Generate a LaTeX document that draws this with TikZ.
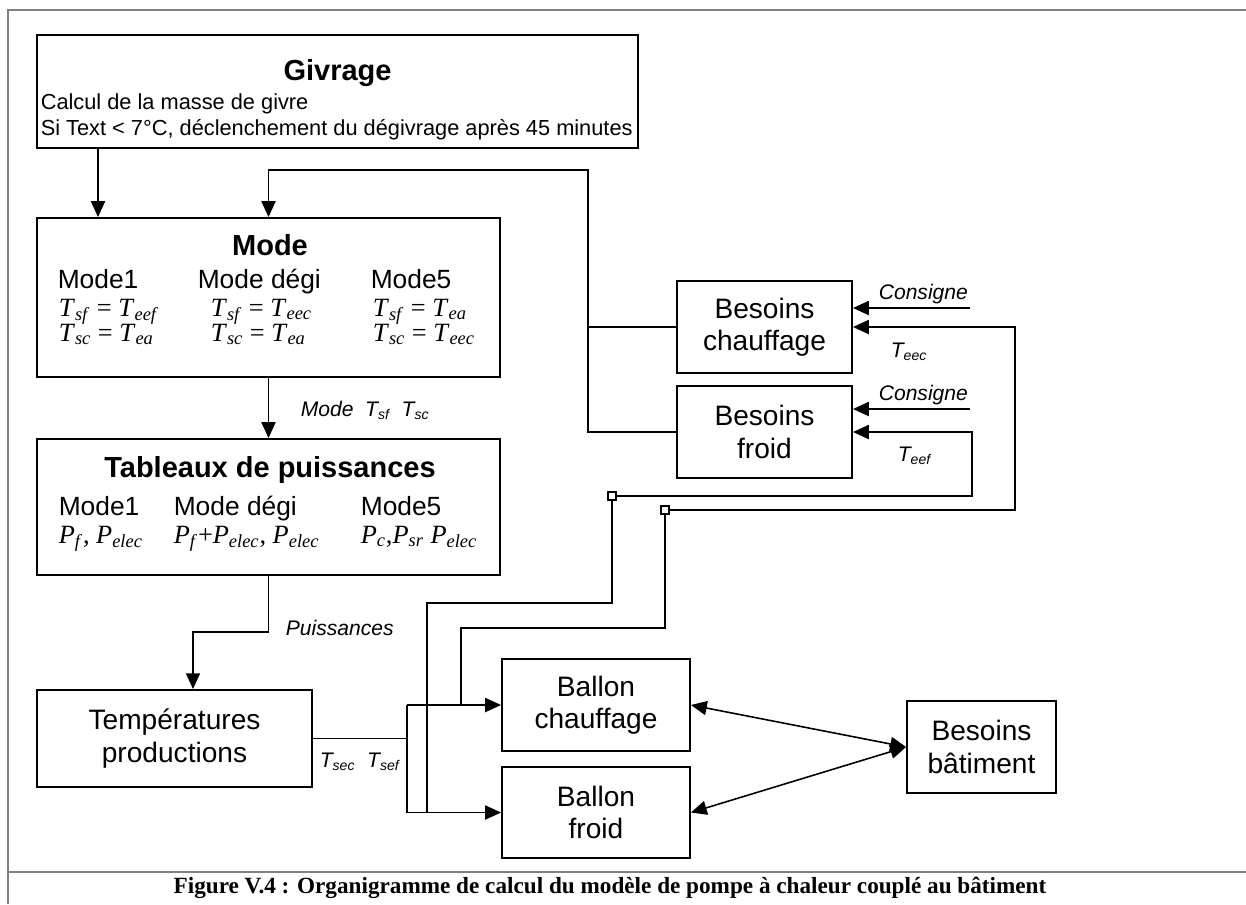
\documentclass[tikz,border=0pt]{standalone}
\usepackage{fontspec}
\setmainfont{Liberation Sans}
\newfontfamily\tnr{Liberation Serif}
\usetikzlibrary{arrows.meta}
\newcommand{\Tv}[2]{\textit{#1}\textsubscript{\textit{#2}}}
\tikzset{
  box/.style={draw, line width=1.1pt, align=center, inner sep=0pt, font=\fontsize{16}{18.5}\selectfont},
  arr/.style={-{Triangle[length=9pt,width=8pt]}},
  darr/.style={{Triangle[length=9pt,width=8pt]}-{Triangle[length=9pt,width=8pt]}},
  txt/.style={anchor=base west, inner sep=0pt},
  lbl/.style={anchor=base west, inner sep=0pt, font=\fontsize{12}{14}\selectfont\itshape},
  eq/.style={anchor=base west, inner sep=0pt, font=\tnr\fontsize{15}{16}\selectfont},
  jsq/.style={draw, fill=white, minimum size=4.5pt, inner sep=0pt, line width=0.8pt},
  frame/.style={draw=gray, line width=1.2pt}
}
\begin{document}
\begin{tikzpicture}[x=0.02cm, y=-0.02cm, line width=0.9pt]
\useasboundingbox (0,0) rectangle (1246,904);
% cadre
\draw[frame] (8,904) -- (8,10) -- (1246,10);
\draw[frame] (8,872) -- (1246,872);
% boites
\node[box, minimum width=12.02cm, minimum height=2.26cm] (giv) at (337.5,91.5) {};
\node[box, minimum width=9.26cm, minimum height=3.18cm] (mode) at (268.5,297.5) {};
\node[box, minimum width=9.26cm, minimum height=2.72cm] (tab) at (268.5,507) {};
\node[box, minimum width=5.5cm, minimum height=1.94cm] (temp) at (174.5,738.5) {Températures\\productions};
\node[box, minimum width=3.5cm, minimum height=1.84cm] (bch) at (764.5,327) {Besoins\\chauffage};
\node[box, minimum width=3.5cm, minimum height=1.84cm] (bfr) at (764.5,432) {Besoins\\froid};
\node[box, minimum width=3.76cm, minimum height=1.84cm] (balc) at (596,705) {Ballon\\chauffage};
\node[box, minimum width=3.76cm, minimum height=1.82cm] (balf) at (596,812.5) {Ballon\\froid};
\node[box, minimum width=2.98cm, minimum height=1.84cm] (bat) at (981.5,747) {Besoins\\bâtiment};
% Givrage
\node[font=\bfseries\fontsize{16.5}{18}\selectfont, anchor=base] (givt) at (337.5,80) {Givrage};
\node[txt, font=\fontsize{12.4}{14}\selectfont] (giv1) at (40,109) {Calcul de la masse de givre};
\node[txt, font=\fontsize{12.4}{14}\selectfont] (giv2) at (40,135) {Si Text < 7°C, déclenchement du dégivrage après 45 minutes};
% Mode
\node[font=\bfseries\fontsize{16.5}{18}\selectfont, anchor=base] (modet) at (270,255) {Mode};
\node[txt, font=\fontsize{15}{17}\selectfont] (m1) at (57,288) {Mode1};
\node[txt, font=\fontsize{15}{17}\selectfont] (m2) at (197,288) {Mode dégi};
\node[txt, font=\fontsize{15}{17}\selectfont] (m3) at (370,288) {Mode5};
\node[eq] (e11) at (58,316) {\Tv{T}{sf} = \Tv{T}{eef}};
\node[eq] (e12) at (58,341) {\Tv{T}{sc} = \Tv{T}{ea}};
\node[eq] (e21) at (210,316) {\Tv{T}{sf} = \Tv{T}{eec}};
\node[eq] (e22) at (210,341) {\Tv{T}{sc} = \Tv{T}{ea}};
\node[eq] (e31) at (372,316) {\Tv{T}{sf} = \Tv{T}{ea}};
\node[eq] (e32) at (372,341) {\Tv{T}{sc} = \Tv{T}{eec}};
% Tableaux
\node[font=\bfseries\fontsize{16.5}{18}\selectfont, anchor=base] (tabt) at (270,477) {Tableaux de puissances};
\node[txt, font=\fontsize{15}{17}\selectfont] (t1) at (58,515) {Mode1};
\node[txt, font=\fontsize{15}{17}\selectfont] (t2) at (173,515) {Mode dégi};
\node[txt, font=\fontsize{15}{17}\selectfont] (t3) at (360,515) {Mode5};
\node[eq] (p1) at (58,543) {\Tv{P}{f}, \Tv{P}{elec}};
\node[eq] (p2) at (173,543) {\Tv{P}{f}+\Tv{P}{elec}, \Tv{P}{elec}};
\node[eq] (p3) at (360,543) {\Tv{P}{c},\Tv{P}{sr} \Tv{P}{elec}};
% points de passage
\coordinate (c1) at (98,0);
\coordinate (fb) at (588,170);
\coordinate (pt) at (193,632);
\coordinate (sp) at (407,739);
\node[jsq] (q1) at (665,510) {};
\node[jsq] (q2) at (612,496) {};
\coordinate (rc) at (1015,510);
\coordinate (rf) at (972,496);
\coordinate (lc) at (461,628);
\coordinate (lf) at (427,603);
\coordinate (cs1) at (970,308);
\coordinate (cs2) at (970,409);
% liaisons
\draw[arr] (giv.south -| c1) -- (mode.north -| c1);
\draw[arr] (bfr.west) -| (fb) -| (mode.north);
\draw (bch.west) -- (bch.west -| fb);
\draw[arr] (mode.south) -- (tab.north);
\draw[arr] (tab.south) |- (pt) -- (pt |- temp.north);
\draw (temp.east) -- (temp.east -| sp);
\draw (sp |- balc.west) -- (sp |- balf.west);
\draw[arr] (sp |- balc.west) -- (balc.west);
\draw[arr] (sp |- balf.west) -- (balf.west);
\draw[arr] (q1) -- (rc) |- (bch.east);
\draw (q1) |- (lc) -- (lc |- balc.west);
\draw[arr] (q2) -- (rf) |- (bfr.east);
\draw (q2) |- (lf) -- (lf |- balf.west);
\node[jsq] at (q1) {};
\node[jsq] at (q2) {};
\draw[arr] (cs1) -- (cs1 -| bch.east);
\draw[arr] (cs2) -- (cs2 -| bfr.east);
\draw[darr] (balc.east) -- (bat.west);
\draw[darr] (balf.east) -- (bat.west);
% etiquettes
\node[lbl] (lmode) at (300,416) {Mode\ \ \Tv{T}{sf}\ \ \Tv{T}{sc}};
\node[lbl] (lpuis) at (285,635) {Puissances};
\node[lbl] (ltemp) at (319,767) {\Tv{T}{sec}\ \ \Tv{T}{sef}};
\node[lbl] (lcs1) at (878,299) {Consigne};
\node[lbl] (lcs2) at (878,400) {Consigne};
\node[lbl] (leec) at (890,357) {\Tv{T}{eec}};
\node[lbl] (leef) at (897,461) {\Tv{T}{eef}};
% legende
\node[font=\tnr\bfseries\fontsize{13.2}{15}\selectfont, anchor=base] (cap) at (610,893) {Figure V.4 : Organigramme de calcul du modèle de pompe à chaleur couplé au bâtiment};
\end{tikzpicture}
\end{document}
